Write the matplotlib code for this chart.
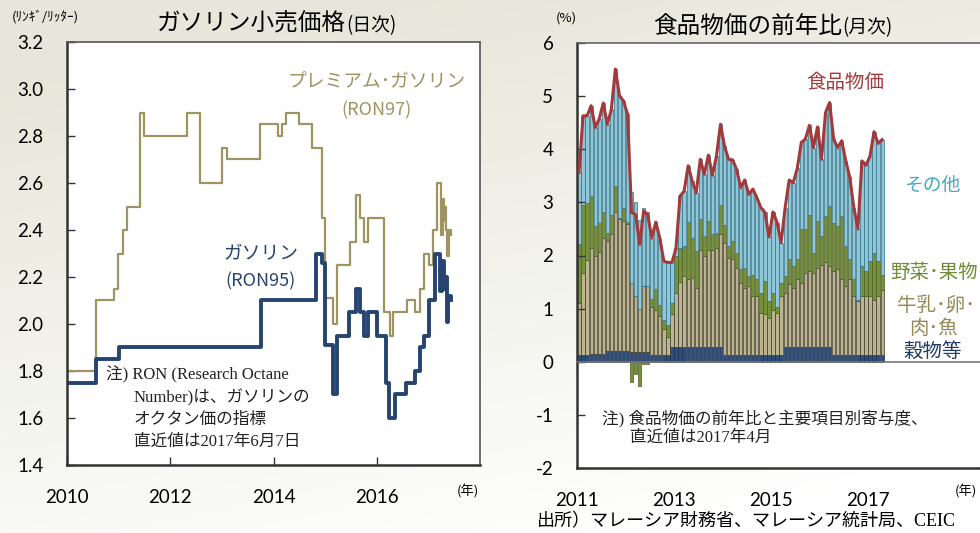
import numpy as np
import matplotlib.pyplot as plt

plt.rcParams['font.family'] = ['Noto Sans CJK JP', 'DejaVu Sans']

# ---- left: gasoline retail price (daily, step changes) ----
ron97_x = [2010.00, 2010.56, 2010.91, 2010.99, 2011.08, 2011.17, 2011.41, 2011.50,
           2012.33, 2012.58, 2013.00, 2013.09, 2013.74, 2014.09, 2014.16, 2014.25,
           2014.49, 2014.75, 2014.94, 2015.00, 2015.15, 2015.23, 2015.49, 2015.59,
           2015.67, 2015.76, 2015.84, 2016.15, 2016.25, 2016.32, 2016.58, 2016.75,
           2016.84, 2016.91, 2017.01, 2017.09, 2017.17, 2017.25, 2017.28, 2017.31,
           2017.33, 2017.35, 2017.37, 2017.39, 2017.43]
ron97_y = [1.80, 2.10, 2.15, 2.30, 2.40, 2.50, 2.90, 2.80,
           2.90, 2.60, 2.75, 2.70, 2.85, 2.80, 2.85, 2.90,
           2.85, 2.75, 2.45, 2.11, 2.00, 2.25, 2.35, 2.55,
           2.45, 2.35, 2.45, 2.05, 1.95, 2.05, 2.10, 2.05,
           2.15, 2.30, 2.25, 2.40, 2.60, 2.38, 2.53, 2.44,
           2.50, 2.40, 2.29, 2.40, 2.38]

ron95_x = [2010.00, 2010.56, 2011.00, 2013.75, 2014.83, 2014.93, 2014.99, 2015.15,
           2015.23, 2015.47, 2015.59, 2015.67, 2015.75, 2015.83, 2016.00, 2016.17,
           2016.24, 2016.35, 2016.57, 2016.75, 2016.84, 2016.91, 2017.02, 2017.12,
           2017.23, 2017.27, 2017.31, 2017.33, 2017.36, 2017.38, 2017.43]
ron95_y = [1.75, 1.85, 1.90, 2.10, 2.30, 2.26, 1.91, 1.70,
           1.95, 2.05, 2.15, 2.05, 1.95, 2.05, 1.95, 1.75,
           1.60, 1.70, 1.75, 1.80, 1.90, 1.95, 2.10, 2.30,
           2.14, 2.27, 2.15, 2.20, 2.01, 2.12, 2.10]

# ---- right: food price inflation (monthly, Jan 2011 - Apr 2017) ----
food_total = [3.57, 4.63, 4.63, 4.82, 4.41, 4.57, 4.87, 4.47, 4.75, 5.51, 5.01, 4.91,
              4.66, 2.81, 2.77, 2.21, 2.84, 2.77, 2.33, 2.63, 2.32, 1.89, 1.87, 1.87,
              2.14, 3.12, 3.21, 3.69, 3.40, 3.18, 3.81, 3.53, 3.89, 3.51, 3.87, 4.47,
              4.06, 3.81, 3.80, 3.62, 3.28, 3.42, 3.15, 3.25, 3.09, 2.90, 2.81, 2.35,
              2.82, 2.62, 2.24, 2.90, 3.42, 3.37, 3.64, 4.13, 4.19, 4.45, 4.03, 4.42,
              3.81, 4.69, 4.88, 4.19, 4.03, 4.16, 3.78, 3.47, 2.90, 2.50, 3.78, 3.70,
              3.87, 4.33, 4.11, 4.18]
grain = [0.12, 0.12, 0.12, 0.15, 0.15, 0.15, 0.15, 0.20, 0.20, 0.20, 0.20, 0.20,
         0.20, 0.18, 0.18, 0.18, 0.18, 0.18, 0.13, 0.13, 0.13, 0.13, 0.13, 0.28,
         0.28, 0.28, 0.28, 0.28, 0.28, 0.28, 0.28, 0.28, 0.28, 0.28, 0.28, 0.28,
         0.13, 0.13, 0.13, 0.13, 0.13, 0.13, 0.13, 0.13, 0.13, 0.13, 0.13, 0.13,
         0.13, 0.13, 0.13, 0.27, 0.27, 0.27, 0.27, 0.27, 0.27, 0.27, 0.27, 0.27,
         0.27, 0.27, 0.27, 0.12, 0.12, 0.12, 0.12, 0.12, 0.12, 0.12, 0.12, 0.12,
         0.12, 0.12, 0.12, 0.12]
meat = [0.99, 1.55, 1.80, 1.99, 1.85, 1.92, 2.18, 2.07, 2.20, 2.62, 2.48, 2.45,
        2.39, 1.31, 1.06, 0.81, 1.24, 1.24, 0.91, 0.85, 0.73, 0.49, 0.34, 0.62,
        1.02, 1.22, 1.33, 1.27, 1.30, 1.11, 1.83, 1.71, 1.83, 1.83, 1.86, 2.12,
        2.11, 1.83, 1.80, 1.64, 1.36, 1.26, 1.29, 1.10, 1.10, 0.79, 0.76, 0.69,
        0.85, 0.79, 1.10, 1.03, 1.19, 1.12, 1.28, 1.22, 1.41, 1.44, 1.41, 1.50,
        1.56, 1.60, 1.53, 1.59, 1.62, 1.43, 1.30, 1.43, 1.11, 1.02, 1.11, 1.11,
        1.11, 1.05, 1.11, 1.24]
veg = [1.10, 1.28, 1.06, 0.98, 0.55, 0.55, 0.48, 0.16, 0.37, 0.49, 0.02, 0.25,
       0.04, -0.39, -0.23, -0.45, -0.05, -0.05, 0.14, 0.39, 0.21, 0.17, 0.23, 0.20,
       0.70, 0.64, 0.57, 1.09, 0.75, 0.69, 0.57, 0.37, 0.54, 0.29, 0.29, 0.56,
       0.34, 0.22, 0.34, 0.28, 0.25, 0.38, 0.19, 0.41, 0.32, 0.38, 0.63, 0.32,
       0.32, 0.12, 0.26, 0.31, 0.47, 0.41, 0.38, 1.00, 0.81, 1.06, 0.37, 0.88,
       0.53, 0.87, 1.13, 0.90, 0.81, 1.19, 0.76, 0.38, 0.32, 0.03, 0.57, 0.48,
       0.67, 0.88, 0.67, 0.28]
other = [1.36, 1.68, 1.65, 1.70, 1.86, 1.95, 2.06, 2.04, 1.98, 2.20, 2.31, 2.01,
         2.03, 1.71, 1.76, 1.67, 1.47, 1.40, 1.15, 1.26, 1.25, 1.10, 1.17, 0.77,
         0.14, 0.98, 1.03, 1.05, 1.07, 1.10, 1.13, 1.17, 1.24, 1.11, 1.44, 1.51,
         1.48, 1.63, 1.53, 1.57, 1.54, 1.65, 1.54, 1.61, 1.54, 1.60, 1.29, 1.21,
         1.52, 1.58, 0.75, 1.29, 1.49, 1.57, 1.71, 1.64, 1.70, 1.68, 1.98, 1.77,
         1.45, 1.95, 1.95, 1.58, 1.48, 1.42, 1.60, 1.54, 1.35, 1.33, 1.98, 1.99,
         1.97, 2.28, 2.21, 2.54]

c97 = '#9d9461'
c95 = '#26446f'
c_grain, c_meat, c_veg, c_other, c_total = '#2c4c7a', '#bcb48f', '#76913b', '#8fc6d8', '#a3393a'


def fxy(x, y):
    # pixel position in the 980x533 picture -> figure fraction
    return x / 980, 1 - y / 533


fig = plt.figure(figsize=(9.8, 5.33), dpi=100)

# soft beige background, lighter towards the top right
bg = fig.add_axes([0, 0, 1, 1], zorder=-10)
gx, gy = np.meshgrid(np.linspace(0, 1, 200), np.linspace(0, 1, 120))
t = np.clip(0.35 * (1 - gx) + 0.9 * (1 - gy) - 0.1, 0, 1)
beige = np.array([0.905, 0.905, 0.855])
grad = beige + (1 - beige) * (1 - t)[..., None]
bg.imshow(grad, extent=[0, 1, 0, 1], aspect='auto', origin='upper')
bg.axis('off')

# ---------------- left chart ----------------
ax1 = fig.add_axes([67 / 980, 68 / 533, 413 / 980, 423 / 533])
ax1.set_facecolor('white')
ax1.step(ron97_x + [2017.44], ron97_y + [ron97_y[-1]], where='post', color=c97, lw=1.6)
ax1.step(ron95_x + [2017.44], ron95_y + [ron95_y[-1]], where='post', color=c95, lw=2.8)
ax1.set_xlim(2010, 2018)
ax1.set_ylim(1.4, 3.2)
ax1.set_xticks([2010, 2012, 2014, 2016], ['2010', '2012', '2014', '2016'],
               fontfamily='Lato', fontsize=13.5)
yt = [1.4, 1.6, 1.8, 2.0, 2.2, 2.4, 2.6, 2.8, 3.0, 3.2]
ax1.set_yticks(yt, ['%.1f' % v for v in yt], fontfamily='Lato', fontsize=13.5)
ax1.tick_params(axis='both', direction='in', length=6, width=1, color='#333333')
ax1.tick_params(axis='y', pad=17)
ax1.tick_params(axis='x', pad=17)
for s in ['left', 'bottom']:
    ax1.spines[s].set_color('#333333')
    ax1.spines[s].set_linewidth(1.8)
for s in ['top', 'right']:
    ax1.spines[s].set_color('#555555')
    ax1.spines[s].set_linewidth(1.2)

ax1.text(2016.0, 3.03, 'プレミアム･ガソリン', color=c97, fontsize=13.5, ha='center', va='center')
ax1.text(2016.0, 2.91, '(RON97)', color=c97, fontsize=13, ha='center', va='center')
ax1.text(2013.75, 2.30, 'ガソリン', color=c95, fontsize=13.5, ha='center', va='center')
ax1.text(2013.75, 2.18, '(RON95)', color=c95, fontsize=13, ha='center', va='center')

note_font = ['Liberation Serif', 'Noto Sans CJK JP']
fig.text(*fxy(106, 375), '注) RON (Research Octane', family=note_font, fontsize=12, va='center', color='#222222')
fig.text(*fxy(134, 398), 'Number)は、ガソリンの', family=note_font, fontsize=12, va='center', color='#222222')
fig.text(*fxy(134, 420), 'オクタン価の指標', family=note_font, fontsize=12, va='center', color='#222222')
fig.text(*fxy(134, 442), '直近値は2017年6月7日', family=note_font, fontsize=12, va='center', color='#222222')

fig.text(*fxy(346, 24), 'ガソリン小売価格', fontsize=17, ha='right', va='center')
fig.text(*fxy(346, 26), '(日次)', fontsize=13.5, ha='left', va='center')
fig.text(*fxy(12, 17), '(ﾘﾝｷﾞ/ﾘｯﾀｰ)', fontsize=9.5, ha='left', va='center')
fig.text(*fxy(468, 492), '(年)', fontsize=9.5, ha='center', va='center')

# ---------------- right chart ----------------
ax2 = fig.add_axes([577 / 980, 65 / 533, 403 / 980, 425 / 533])
ax2.set_facecolor('white')
months = 2011 + (np.arange(len(food_total)) + 0.5) / 12
grain_a = np.array(grain)
meat_a = np.array(meat)
veg_a = np.array(veg)
other_a = np.array(other)
veg_pos = np.where(veg_a > 0, veg_a, 0)
veg_neg = np.where(veg_a < 0, veg_a, 0)
w = 0.8 / 12
bkw = dict(width=w, linewidth=0.5)
ax2.bar(months, grain_a, color=c_grain, edgecolor='#1b2f4d', **bkw)
ax2.bar(months, meat_a, bottom=grain_a, color=c_meat, edgecolor='#3a3626', **bkw)
ax2.bar(months, veg_pos, bottom=grain_a + meat_a, color=c_veg, edgecolor='#4a5e22', **bkw)
ax2.bar(months, veg_neg, color=c_veg, edgecolor='#4a5e22', **bkw)
ax2.bar(months, other_a, bottom=grain_a + meat_a + veg_pos, color=c_other, edgecolor='#2f6f86', **bkw)
ax2.plot(months, food_total, color=c_total, lw=2.2, zorder=5)
ax2.axhline(0, color='#777777', lw=1.2, zorder=4)
ax2.set_xlim(2011, 2011 + 403 / 48.5)
ax2.set_ylim(-2, 6)
ax2.set_xticks([2011, 2013, 2015, 2017], ['2011', '2013', '2015', '2017'],
               fontfamily='Lato', fontsize=13.5)
ax2.set_yticks(range(-2, 7), [str(v) for v in range(-2, 7)], fontfamily='Lato', fontsize=13.5)
ax2.tick_params(axis='y', direction='in', length=6, width=1, color='#333333', pad=17)
ax2.tick_params(axis='x', length=0, pad=17)
zero_ax = ax2.secondary_xaxis(0.25)
zero_ax.set_xticks([2011, 2013, 2015, 2017], ['', '', '', ''])
zero_ax.tick_params(direction='in', length=3, color='#333333')
zero_ax.spines['bottom'].set_visible(False)
ax2.spines['right'].set_visible(False)
for s in ['left', 'bottom']:
    ax2.spines[s].set_color('#333333')
    ax2.spines[s].set_linewidth(1.8)
ax2.spines['top'].set_color('#666666')
ax2.spines['top'].set_linewidth(1.2)

fig.text(*fxy(845, 82), '食品物価', color=c_total, fontsize=14, ha='center', va='center')
fig.text(*fxy(932, 185), 'その他', color='#4aa7c4', fontsize=13.5, ha='center', va='center')
fig.text(*fxy(934, 273), '野菜･果物', color='#6f8c34', fontsize=14, ha='center', va='center')
fig.text(*fxy(936, 305), '牛乳･卵･', color='#948a54', fontsize=14, ha='center', va='center')
fig.text(*fxy(933, 328), '肉･魚', color='#948a54', fontsize=14, ha='center', va='center')
fig.text(*fxy(933, 351), '穀物等', color='#1f3864', fontsize=14, ha='center', va='center')

fig.text(*fxy(602, 419), '注) 食品物価の前年比と主要項目別寄与度、', family=note_font, fontsize=12,
         va='center', color='#222222')
fig.text(*fxy(630, 438), '直近値は2017年4月', family=note_font, fontsize=12, va='center', color='#222222')

fig.text(*fxy(842, 26), '食品物価の前年比', fontsize=17, ha='right', va='center')
fig.text(*fxy(842, 28), '(月次)', fontsize=13.5, ha='left', va='center')
fig.text(*fxy(566, 18), '(%)', fontsize=9.5, ha='center', va='center')
fig.text(*fxy(977, 492), '(年)', fontsize=9.5, ha='right', va='center')

fig.text(*fxy(537, 522), '出所）マレーシア財務省、マレーシア統計局、CEIC', family=note_font,
         fontsize=13, ha='left', va='center')

fig.savefig('out.png', dpi=100)
